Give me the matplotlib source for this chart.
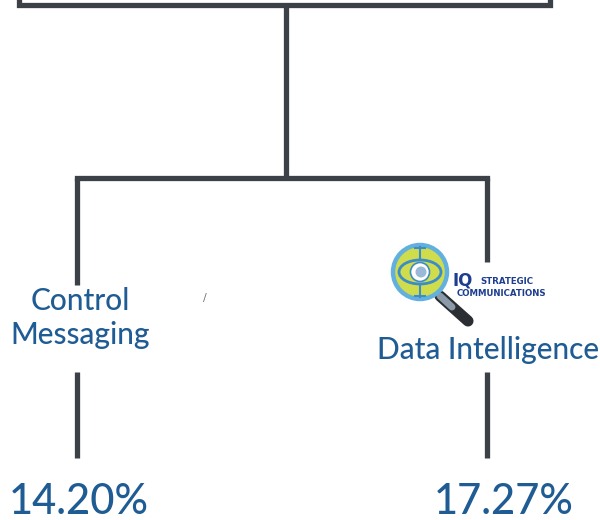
import matplotlib.pyplot as plt
from matplotlib.patches import Circle, Ellipse, Rectangle

# data
branches = ["Control\nMessaging", "Data Intelligence"]
rates = [14.20, 17.27]
branch_x = [77, 487]

line_col = "#3b4147"
text_col = "#1f5c94"

fig = plt.figure(figsize=(6, 5.2), dpi=100)
ax = fig.add_axes([0, 0, 1, 1])
ax.set_xlim(0, 600)
ax.set_ylim(520, 0)
ax.axis("off")

lw = 3.8
# top box bottom edge and stem
ax.add_patch(Rectangle((19, -10), 531, 15, facecolor="white", edgecolor=line_col, lw=lw))
ax.plot([286, 286], [5, 178], color=line_col, lw=lw, solid_capstyle="butt")
ax.plot([branch_x[0], branch_x[1]], [178, 178], color=line_col, lw=lw, solid_capstyle="projecting")
ax.plot([branch_x[0], branch_x[0]], [178, 285], color=line_col, lw=lw, solid_capstyle="butt")
ax.plot([branch_x[1], branch_x[1]], [178, 262], color=line_col, lw=lw, solid_capstyle="butt")

font = ["Lato", "DejaVu Sans"]
label_pos = [(80, 318), (488, 350)]
for x, lab, (lx, ly), r in zip(branch_x, branches, label_pos, rates):
    ax.text(lx, ly, lab, ha="center", va="center", fontsize=21.5, color=text_col,
            family=font, fontweight="medium", linespacing=1.25)
    ax.plot([x, x], [372, 458], color=line_col, lw=lw, solid_capstyle="butt")
    ax.text(lx - 1 if x < 300 else x + 17, 502, f"{r:.2f}%", ha="center", va="center",
            fontsize=30, color=text_col, family=font, fontweight="medium")

# scan artifact
ax.text(205, 298, "/", ha="center", va="center", fontsize=8, color="#777777")

# logo
cx, cy = 420, 272
ax.plot([440, 468], [296, 321], color="#2a2e33", lw=8, solid_capstyle="round", zorder=2)
ax.plot([440, 452], [296, 307], color="#8a9aa8", lw=5, solid_capstyle="round", zorder=3)
ax.add_patch(Circle((cx, cy), 27, facecolor="#cfdc4c", edgecolor="#62b0de", lw=3.2, zorder=4))
ax.add_patch(Ellipse((cx, cy), 42, 24, facecolor="#cfdc4c", edgecolor="#3b8cc8", lw=2, zorder=5))
ax.add_patch(Circle((cx, cy), 9.5, facecolor="white", edgecolor="#3b8cc8", lw=1.2, zorder=6))
ax.add_patch(Circle((cx + 1, cy), 5.5, facecolor="#9ab8d8", edgecolor="none", zorder=7))
ax.plot([cx, cx], [cy - 25, cy - 14], color="#3b8cc8", lw=1.5, zorder=6)
ax.plot([cx, cx], [cy + 14, cy + 25], color="#3b8cc8", lw=1.5, zorder=6)
ax.plot([cx - 5, cx + 5], [cy - 24, cy - 24], color="#3b8cc8", lw=1.5, zorder=6)
ax.plot([cx - 5, cx + 5], [cy + 24, cy + 24], color="#3b8cc8", lw=1.5, zorder=6)
ax.text(452, 281, "IQ", ha="left", va="center", fontsize=12, fontweight="bold",
        color="#1d3d8f", family="DejaVu Sans")
ax.text(480, 282, "STRATEGIC", ha="left", va="center", fontsize=6.2, fontweight="bold",
        color="#1d3d8f", family="DejaVu Sans")
ax.text(457, 293, "COMMUNICATIONS", ha="left", va="center", fontsize=6.2, fontweight="bold",
        color="#1d3d8f", family="DejaVu Sans")

fig.savefig("out.png", dpi=100, facecolor="white")
